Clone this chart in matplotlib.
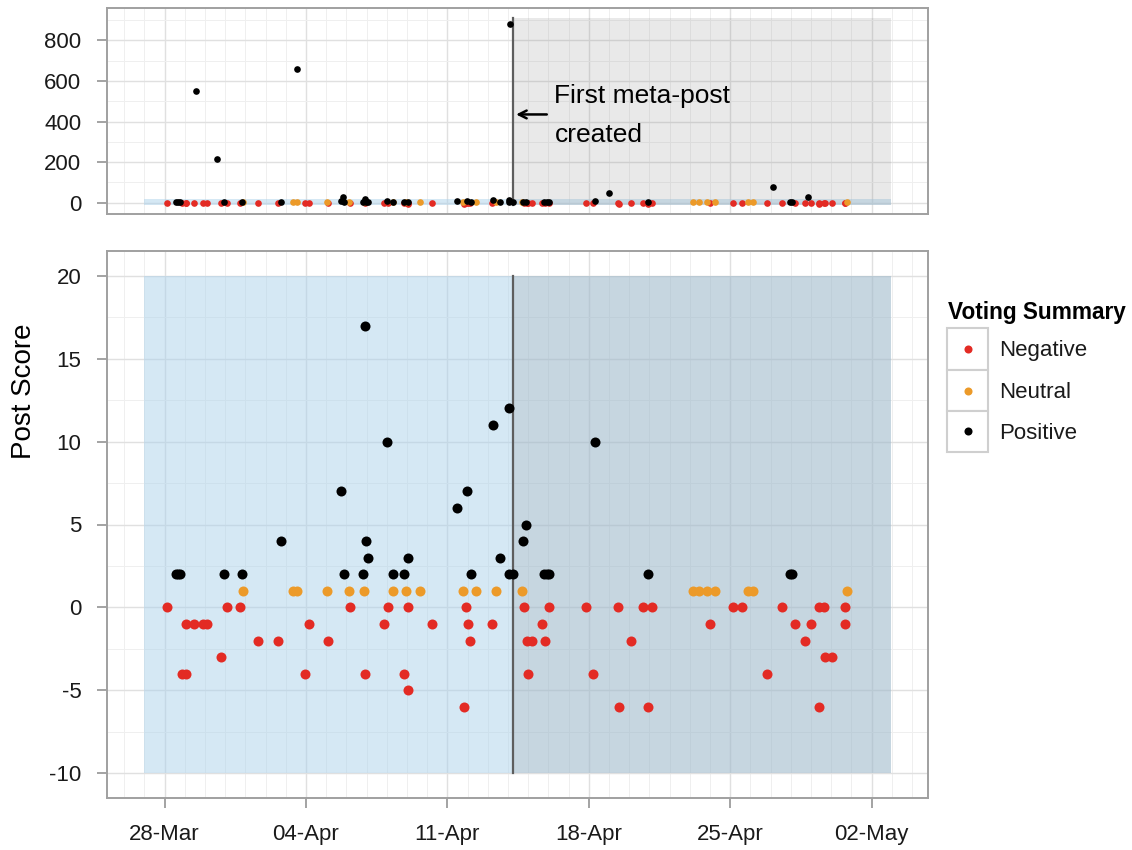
import matplotlib
matplotlib.use("Agg")
import matplotlib.pyplot as plt
import matplotlib.dates as mdates
from matplotlib.ticker import FixedLocator, MultipleLocator, NullFormatter
from matplotlib.patches import Rectangle
import numpy as np

plt.rcParams['font.family'] = ['Liberation Sans', 'DejaVu Sans']
plt.rcParams['axes.unicode_minus'] = False

# ---------------- data ----------------
START = "2016-03-28"          # day 0 of the x axis
categories = ["Negative", "Neutral", "Positive"]
cat_colors = ["#E32B24", "#EC9A29", "#000000"]

# days after START (fractional) and post scores
negative_day = [0.12, 3.09, 3.75, 9.20, 11.05, 12.07, 14.94, 17.81, 19.04, 20.85, 22.45, 23.70,
                24.12, 28.12, 28.58, 30.56, 32.41, 32.64, 33.70,
                1.07, 1.48, 1.90, 2.10, 7.14, 10.84, 13.23, 15.04, 16.21, 18.67, 27.00, 31.21,
                31.98, 33.70,
                4.65, 5.63, 8.10, 15.11, 17.96, 18.18, 18.82, 23.11, 31.69,
                2.81, 32.68, 33.05,
                0.86, 1.07, 6.95, 9.93, 11.83, 18.00, 21.20, 29.81,
                12.04,
                14.81, 22.51, 23.93, 32.41]
negative_score = [0] * 19 + [-1] * 14 + [-2] * 9 + [-3] * 3 + [-4] * 8 + [-5] * 1 + [-6] * 4

neutral_day = [3.86, 6.38, 6.55, 8.04, 9.15, 9.85, 11.30, 11.96, 12.62, 14.75, 15.42, 16.40,
               17.70, 26.18, 26.47, 26.84, 27.25, 28.90, 29.14, 33.80]
neutral_score = [1] * 20

positive_day = [0.58, 0.68, 0.78, 2.92, 3.83, 8.89, 9.80, 11.33, 11.83, 15.18, 17.07, 17.27,
                18.80, 18.92, 19.05, 23.92, 30.94, 31.04,
                10.06, 12.06, 16.61,
                5.77, 9.98, 17.73,
                17.91, 14.50, 8.74, 14.96, 11.03, 21.30, 16.25, 17.04, 9.90,
                1.58, 2.61, 6.55, 17.12, 22.02, 30.13, 31.84, 8.81]
positive_score = [2] * 18 + [3] * 3 + [4] * 3 + [5, 6, 7, 7, 10, 10, 11, 12, 17,
                                                550, 216, 657, 882, 48, 75, 27, 30]

first_meta_day = 17.27
zoom_range = (-10, 20)
zoom_days = (-1.0, 35.94)
shade_top = 913
annotation_lines = ["First meta-post", "created"]
y_label = "Post Score"
legend_title = "Voting Summary"

# ---------------- figure ----------------
W, H = 1132, 850
fig = plt.figure(figsize=(W / 100, H / 100), dpi=100)
base = mdates.datestr2num(START)


def add_ax(l, t, r, b):
    return fig.add_axes([l / W, 1 - b / H, (r - l) / W, (b - t) / H])


ax_top = add_ax(107, 8, 928, 214)
ax_bot = add_ax(107, 251, 928, 798)

series = [(negative_day, negative_score), (neutral_day, neutral_score), (positive_day, positive_score)]

xlo = base + zoom_days[0] - 0.05 * (zoom_days[1] - zoom_days[0])
xhi = base + zoom_days[1] + 0.05 * (zoom_days[1] - zoom_days[0])

for ax, pt_size, ylo_data, yhi_data in [(ax_top, 23, -10, shade_top), (ax_bot, 52, -10, 20)]:
    pad = 0.05 * (yhi_data - ylo_data)
    ax.set_xlim(xlo, xhi)
    ax.set_ylim(ylo_data - pad, yhi_data + pad)
    ax.set_axisbelow(True)
    ax.xaxis.set_major_locator(FixedLocator(base + np.arange(0, 36, 7)))
    ax.xaxis.set_minor_locator(FixedLocator(base + np.arange(-2, 38, 1)))
    ax.xaxis.set_major_formatter(mdates.DateFormatter('%d-%b'))
    ax.xaxis.set_minor_formatter(NullFormatter())
    ax.grid(which='major', color='#E0E0E0', lw=1.0)
    ax.grid(which='minor', color='#EFEFEF', lw=0.7)
    for sp in ax.spines.values():
        sp.set_color('#A0A0A0')
        sp.set_linewidth(1.4)
    ax.tick_params(which='major', length=7.5, width=1.1, color='#8A8A8A',
                   labelsize=16, labelcolor='#1A1A1A', pad=11)
    ax.tick_params(which='minor', length=0)

    # zoom band
    ax.add_patch(Rectangle((base + zoom_days[0], zoom_range[0]), zoom_days[1] - zoom_days[0],
                           zoom_range[1] - zoom_range[0], facecolor='#ACD2EB', alpha=0.5,
                           lw=0, zorder=1))
    # period after the first meta post
    ax.add_patch(Rectangle((base + first_meta_day, -10), zoom_days[1] - first_meta_day,
                           yhi_data + 10, facecolor='#7F7F7F', alpha=0.17, lw=0, zorder=1.2))
    ax.plot([base + first_meta_day] * 2, [-10, yhi_data], color='#5E5E5E', lw=1.6, zorder=2)

    for (d, s), c in zip(series, cat_colors):
        ax.scatter(base + np.array(d), s, s=pt_size, color=c, lw=0, zorder=3)

ax_top.yaxis.set_major_locator(MultipleLocator(200))
ax_top.yaxis.set_minor_locator(MultipleLocator(100))
ax_top.set_ylim(-56, 960)
ax_top.tick_params(axis='x', which='both', bottom=False, labelbottom=False)

ax_bot.yaxis.set_major_locator(MultipleLocator(5))
ax_bot.yaxis.set_minor_locator(MultipleLocator(2.5))

# annotation
ax_top.annotate('', xy=(base + 17.40, 435), xytext=(base + 18.92, 435),
                arrowprops=dict(arrowstyle='->', lw=1.8, color='black', mutation_scale=14,
                                shrinkA=0, shrinkB=0))
ax_top.text(base + 19.30, 489, annotation_lines[0], fontsize=19, va='baseline', ha='left')
ax_top.text(base + 19.30, 298, annotation_lines[1], fontsize=19, va='baseline', ha='left')

# overlay in pixel coordinates for y label and legend
ov = fig.add_axes([0, 0, 1, 1], facecolor='none')
ov.set_xlim(0, W)
ov.set_ylim(H, 0)
ov.axis('off')
ov.text(24, 391, y_label, rotation=90, fontsize=20, ha='center', va='center', color='black')

ov.text(948, 319, legend_title, fontsize=16.3, fontweight='bold', ha='left', va='baseline')
row_top = [328.3, 370.0, 410.7]
row_h = 41.3
for i, (lab, c) in enumerate(zip(categories, cat_colors)):
    t = row_top[i]
    ov.add_patch(Rectangle((946.7, t), 41.6, row_h, facecolor='white', edgecolor='#CFCFCF', lw=1.5))
    ov.plot([967.7], [t + row_h / 2], 'o', color=c, markersize=5.8, mew=0)
    ov.text(999, t + row_h / 2 + 7.5, lab, fontsize=16, ha='left', va='baseline', color='#1A1A1A')

fig.savefig('out.png', dpi=100)
